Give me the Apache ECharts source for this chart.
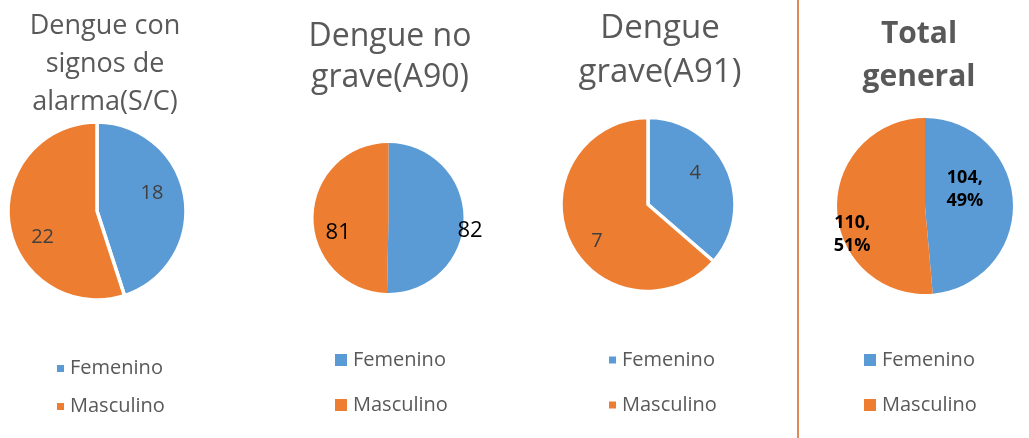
<!DOCTYPE html>
<html>
<head>
<meta charset="utf-8">
<script src="https://cdn.jsdelivr.net/npm/echarts@6/dist/echarts.min.js"></script>
<style>
html,body{margin:0;padding:0;background:#fff;}
#chart{width:1029px;height:438px;}
</style>
</head>
<body>
<div id="chart"></div>
<script>
// ---- DATA ----
const categories = ['Femenino', 'Masculino'];
const chartTitles = ['Dengue con\nsignos de\nalarma(S/C)', 'Dengue no\ngrave(A90)', 'Dengue\ngrave(A91)', 'Total\ngeneral'];
const femenino = [18, 82, 4, 104];
const masculino = [22, 81, 7, 110];

// ---- STYLE / LAYOUT ----
const colors = ['#5B9BD5', '#ED7D31'];
const font = '"Open Sans", "Noto Sans", sans-serif';
const panels = [
  { cx: 97, cy: 211, r: 89, gap: 3.5,
    title: { x: 105, y: 7, size: 27, lh: 38, bold: false },
    legend: { x: 55, y: 358.5, icon: 9, gap: 18 },
    label: { size: 20, color: '#404040', bold: false, lh: 24, fmt: '{c}', place: [[0.65, -9], [0.68, -17]] } },
  { cx: 388.5, cy: 218, r: 75, gap: 0,
    title: { x: 390, y: 16, size: 32, lh: 41, bold: false },
    legend: { x: 333, y: 350, icon: 14, gap: 25 },
    label: { size: 22, color: '#000000', bold: false, lh: 26, fmt: '{c}', place: [[1.1, 8], [0.7, -17]] } },
  { cx: 648, cy: 204.5, r: 87, gap: 3.5,
    title: { x: 660, y: 7, size: 33, lh: 44, bold: false },
    legend: { x: 607, y: 350, icon: 9, gap: 25 },
    label: { size: 20, color: '#404040', bold: false, lh: 24, fmt: '{c}', place: [[0.65, -9], [0.72, -11]] } },
  { cx: 925, cy: 206, r: 88, gap: 0,
    title: { x: 919, y: 13, size: 30, lh: 43, bold: true },
    legend: { x: 862, y: 350, icon: 14, gap: 25 },
    label: { size: 18, color: '#000000', bold: true, lh: 23, fmt: '{c},\n{d}%', place: [[0.49, -20], [0.89, -19]] } }
];
const separatorX = 798;

const chart = echarts.init(document.getElementById('chart'), null, { renderer: 'canvas' });

const series = panels.map((p, i) => ({
  type: 'pie',
  name: chartTitles[i].replace(/\n/g, ' '),
  center: [p.cx, p.cy],
  radius: [0, p.r],
  startAngle: 90,
  clockwise: true,
  avoidLabelOverlap: false,
  percentPrecision: 0,
  selectedMode: false,
  animation: false,
  itemStyle: { borderWidth: p.gap, borderColor: '#ffffff' },
  emphasis: { scale: false },
  label: {
    show: true,
    position: 'inside',
    formatter: p.label.fmt,
    fontFamily: font,
    fontSize: p.label.size,
    fontWeight: p.label.bold ? 'bold' : 'normal',
    lineHeight: p.label.lh,
    color: p.label.color
  },
  labelLine: { show: false },
  labelLayout: function (params) {
    const lr = params.labelRect;
    const lx = lr.x + lr.width / 2, ly = lr.y + lr.height / 2;
    const pl = p.label.place[params.dataIndex];
    const a = Math.atan2(lx - p.cx, -(ly - p.cy)) + pl[1] * Math.PI / 180;
    const d = pl[0] * p.r;
    return { x: p.cx + d * Math.sin(a), y: p.cy - d * Math.cos(a) };
  },
  data: categories.map((c, k) => ({
    name: c,
    value: (k === 0 ? femenino : masculino)[i],
    itemStyle: { color: colors[k] }
  }))
}));

const option = {
  animation: false,
  color: colors,
  title: panels.map((p, i) => ({
    text: chartTitles[i],
    left: p.title.x,
    top: p.title.y,
    textAlign: 'center',
    padding: 0,
    textStyle: {
      fontFamily: font,
      fontSize: p.title.size,
      fontWeight: p.title.bold ? 'bold' : 'normal',
      lineHeight: p.title.lh,
      color: '#595959'
    }
  })),
  legend: panels.map((p) => ({
    data: categories,
    orient: 'vertical',
    left: p.legend.x,
    top: p.legend.y,
    padding: 0,
    icon: 'rect',
    itemWidth: p.legend.icon,
    itemHeight: p.legend.icon,
    itemGap: p.legend.gap,
    selectedMode: false,
    textStyle: { fontFamily: font, fontSize: 20, lineHeight: 20, color: '#595959' }
  })),
  graphic: [{
    type: 'line',
    silent: true,
    shape: { x1: separatorX, y1: 0, x2: separatorX, y2: 438 },
    style: { stroke: '#D5651E', lineWidth: 1.5 }
  }],
  series: series
};
chart.setOption(option);
</script>
</body>
</html>
